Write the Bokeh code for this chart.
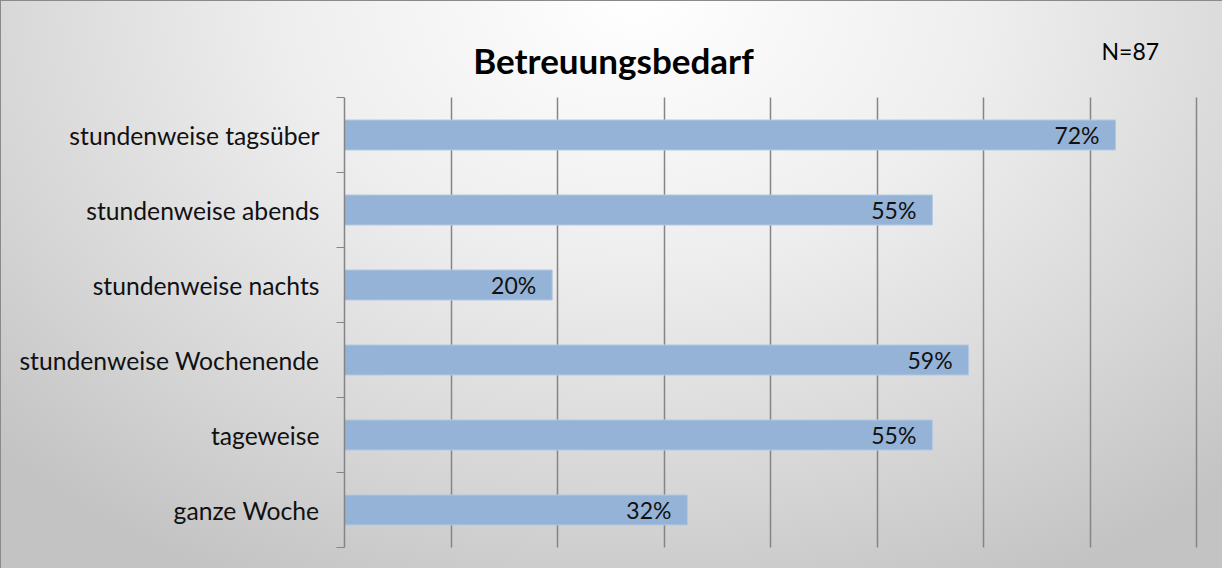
from bokeh.plotting import figure
from bokeh.models import FixedTicker, ColumnDataSource, Label, Range1d, LabelSet
from bokeh.core.properties import value
from bokeh.embed import file_html
from bokeh.resources import INLINE

categories = ["stundenweise tagsüber", "stundenweise abends", "stundenweise nachts",
              "stundenweise Wochenende", "tageweise", "ganze Woche"]
values = [0.724, 0.552, 0.195, 0.586, 0.552, 0.322]
x_ticks = [0.1, 0.2, 0.3, 0.4, 0.5, 0.6, 0.7, 0.8]
x_max = 0.8
title_text = "Betreuungsbedarf"
n_text = "N=87"

n = len(categories)
ypos = [n - i - 0.5 for i in range(n)]
labels = [f"{round(v*100)}%" for v in values]
src = ColumnDataSource(dict(y=ypos, v=values, cat=categories, lab=labels))

FONT = "Lato"

# layout (pixels)
W, H = 1222, 568
AX_LEFT = 344          # axis line position
AX_RIGHT = 1196        # position of x_max
AX_TOP, AX_BOTTOM = 97, 547
px_x = (AX_RIGHT - AX_LEFT) / x_max
px_y = (AX_BOTTOM - AX_TOP) / n

x_range = Range1d(0, (W - AX_LEFT) / px_x)
y_range = Range1d(-(H - AX_BOTTOM) / px_y, n + AX_TOP / px_y)

p = figure(width=W, height=H, output_backend="svg", toolbar_location=None,
           x_range=x_range, y_range=y_range,
           min_border_left=AX_LEFT, min_border_right=0, min_border_top=0, min_border_bottom=0)
p.styles = {"background": "radial-gradient(ellipse 72% 115% at 52% 0%, #ffffff 0%, #eeeeee 40%, #d6d6d6 75%, #c3c3c3 100%)",
            "box-shadow": "inset 1px 1px 0 #8a8a8a"}
p.border_fill_alpha = 0
p.background_fill_alpha = 0
p.outline_line_color = None

p.hbar(y="y", right="v", left=0, height=0.4, source=src, fill_color="#95B3D7", line_color="#B3C8E3", line_width=1)

p.add_layout(LabelSet(x="v", y="y", text="lab", source=src, x_offset=-16, text_align="right",
                      text_baseline="middle", text_font=value(FONT), text_font_size="23px", text_color="#111111"))

p.xaxis.visible = False
p.xgrid.ticker = FixedTicker(ticks=x_ticks)
p.xgrid.cross_bounds = (0, n)
p.xgrid.grid_line_color = "#858585"
p.xgrid.grid_line_width = 1.5
p.ygrid.grid_line_color = None

ax = p.yaxis[0]
ax.bounds = (0, n)
ax.ticker = FixedTicker(ticks=ypos, minor_ticks=list(range(n + 1)))
ax.major_label_overrides = {y: c for y, c in zip(ypos, categories)}
ax.major_tick_line_color = None
ax.major_tick_out = 0
ax.major_tick_in = 0
ax.minor_tick_line_color = "#858585"
ax.minor_tick_out = 8
ax.minor_tick_in = 0
ax.axis_line_color = "#858585"
ax.axis_line_width = 1.5
ax.major_label_standoff = 17
ax.major_label_text_font = FONT
ax.major_label_text_font_size = "24.7px"
ax.major_label_text_color = "#111111"

p.add_layout(Label(x=613 - AX_LEFT, y=H - 59, x_units="screen", y_units="screen", text=title_text,
                   text_align="center", text_baseline="alphabetic", text_font=FONT,
                   text_font_style="bold", text_font_size="35px", text_color="#000000"))
p.add_layout(Label(x=1101 - AX_LEFT, y=H - 50, x_units="screen", y_units="screen", text=n_text,
                   text_align="left", text_baseline="alphabetic", text_font=FONT,
                   text_font_size="23px", text_color="#000000"))

open("out.html", "w").write(file_html(p, INLINE))
